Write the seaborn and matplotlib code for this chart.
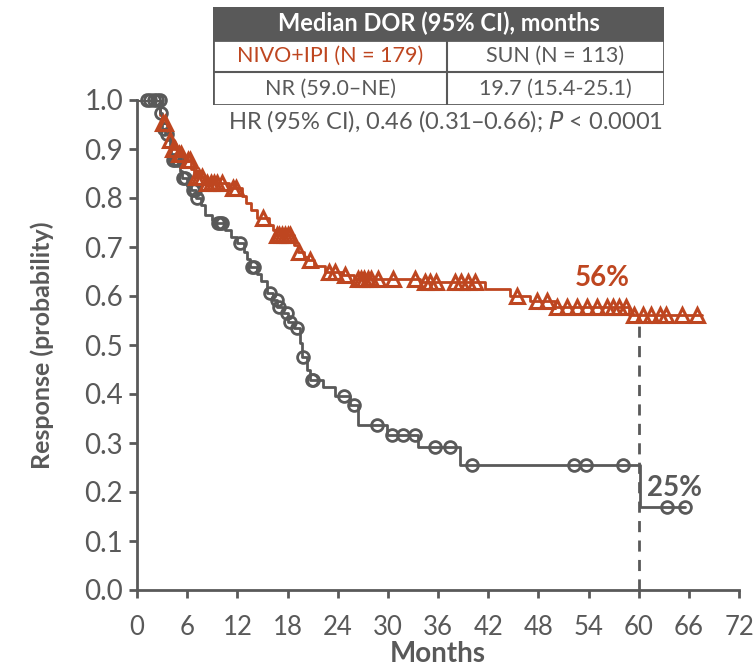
import numpy as np
import pandas as pd
import matplotlib
matplotlib.use("Agg")
import matplotlib.pyplot as plt
from matplotlib.patches import Rectangle
import seaborn as sns

# NIVO+IPI: times of events (months) and survival after each event
nivo_event_t = [2.8, 3.0, 3.6, 3.8, 4.2, 4.8, 5.5, 6.5, 6.8, 8.2, 11.0, 12.5, 13.0,
                13.6, 14.3, 15.8, 16.3, 16.6, 18.8, 19.2, 20.0, 20.5, 21.2, 22.5,
                24.6, 26.0, 33.8, 41.6, 44.6, 47.0, 50.0, 58.9]
nivo_event_s = [0.970, 0.953, 0.935, 0.918, 0.900, 0.890, 0.877, 0.860, 0.843, 0.830,
                0.820, 0.805, 0.790, 0.775, 0.760, 0.745, 0.735, 0.724, 0.705, 0.690,
                0.680, 0.673, 0.662, 0.649, 0.643, 0.635, 0.629, 0.615, 0.600, 0.590,
                0.578, 0.562]
nivo_censor_t = [3.1, 3.3, 3.9, 4.3, 4.5, 5.0, 5.3, 6.1, 6.3, 7.0, 7.4, 7.8, 8.4, 8.8,
                 9.2, 9.6, 10.2, 11.5, 11.8, 15.1, 16.7, 17.0, 17.4, 17.7, 18.0, 18.3,
                 19.4, 20.7, 23.0, 23.7, 24.9, 26.4, 26.8, 27.2, 27.6, 28.0, 28.8,
                 30.6, 33.2, 34.4, 35.0, 35.8, 38.0, 38.8, 39.6, 40.4, 45.4, 47.9,
                 49.0, 50.2, 51.4, 52.6, 53.8, 55.0, 56.2, 56.9, 57.7, 58.5, 59.5,
                 60.5, 61.5, 62.5, 63.3, 65.2, 67.0]
nivo_end = 67.6

# SUN
sun_event_t = [2.8, 3.0, 3.4, 3.9, 4.1, 5.2, 5.4, 6.0, 6.5, 7.0, 7.6, 8.1, 9.0, 9.5,
               10.5, 11.2, 12.0, 12.8, 13.2, 13.5, 14.3, 14.8, 15.5, 16.3, 16.8, 17.5,
               18.0, 18.8, 19.5, 19.7, 20.3, 20.7, 22.2, 23.7, 25.5, 26.4, 29.9, 33.6,
               38.6, 60.2]
sun_event_s = [0.973, 0.940, 0.930, 0.905, 0.877, 0.855, 0.840, 0.825, 0.816, 0.800,
               0.785, 0.765, 0.755, 0.750, 0.735, 0.720, 0.708, 0.690, 0.675, 0.660,
               0.645, 0.630, 0.606, 0.592, 0.578, 0.565, 0.547, 0.535, 0.505, 0.475,
               0.450, 0.429, 0.415, 0.395, 0.378, 0.337, 0.316, 0.292, 0.255, 0.170]
sun_censor_t = [1.2, 1.6, 2.0, 2.4, 2.7, 2.9, 3.2, 3.6, 4.3, 4.6, 4.9, 5.5, 5.7, 6.7,
                6.9, 7.2, 9.7, 9.9, 10.2, 12.3, 13.7, 14.0, 15.9, 16.7, 17.0, 17.9,
                18.3, 19.1, 19.8, 20.9, 21.0, 24.7, 25.9, 28.7, 30.5, 31.8, 33.2,
                35.6, 37.4, 40.1, 52.3, 53.7, 58.1, 63.4, 65.5]
sun_end = 65.5

x_ticks = list(range(0, 73, 6))
y_ticks = [round(v * 0.1, 1) for v in range(11)]

ORANGE = "#BE4620"
GRAY = "#595959"


def step_frame(event_t, event_s, end):
    t = [0.0] + list(event_t) + [end]
    s = [1.0] + list(event_s) + [event_s[-1]]
    return pd.DataFrame({"t": t, "s": s})


def censor_frame(event_t, event_s, censor_t):
    idx = np.searchsorted(event_t, censor_t, side="right")
    s = np.concatenate([[1.0], event_s])[idx]
    return pd.DataFrame({"t": censor_t, "s": s})


sns.set_theme(style="white")
plt.rcParams["font.family"] = ["Lato", "DejaVu Sans"]

fig = plt.figure(figsize=(7.53, 6.67), dpi=100)
ax = fig.add_axes([137 / 753, 77 / 667, 602 / 753, 490 / 667])

sns.lineplot(data=step_frame(nivo_event_t, nivo_event_s, nivo_end), x="t", y="s",
             drawstyle="steps-post", estimator=None, sort=False, color=ORANGE,
             linewidth=2, ax=ax)
sns.lineplot(data=step_frame(sun_event_t, sun_event_s, sun_end), x="t", y="s",
             drawstyle="steps-post", estimator=None, sort=False, color=GRAY,
             linewidth=2, ax=ax)

sns.lineplot(data=censor_frame(sun_event_t, sun_event_s, sun_censor_t), x="t", y="s",
             estimator=None, sort=False, linestyle="", marker="o", markersize=8.5,
             markerfacecolor="none", markeredgecolor=GRAY, markeredgewidth=2,
             color=GRAY, clip_on=False, ax=ax)
sns.lineplot(data=censor_frame(nivo_event_t, nivo_event_s, nivo_censor_t), x="t", y="s",
             estimator=None, sort=False, linestyle="", marker="^", markersize=9.5,
             markerfacecolor="none", markeredgecolor=ORANGE, markeredgewidth=2.2,
             color=ORANGE, clip_on=False, ax=ax)

# 60-month reference
ax.plot([60, 60], [0, nivo_event_s[-1]], color=GRAY, linewidth=2,
        linestyle=(0, (4, 3)), zorder=1)

ax.text(55.7, 0.637, "56%", color=ORANGE, fontsize=20, fontweight="bold",
        ha="center", va="center")
ax.text(64.3, 0.208, "25%", color=GRAY, fontsize=20, fontweight="bold",
        ha="center", va="center")

ax.set_xlim(0, 72)
ax.set_ylim(0, 1.0)
ax.set_xticks(x_ticks)
ax.set_yticks(y_ticks)
ax.set_yticklabels([f"{v:.1f}" for v in y_ticks])
ax.set_xticklabels([str(v) for v in x_ticks])
ax.tick_params(axis="y", labelsize=20, pad=4)
ax.tick_params(axis="x", labelsize=18.5, pad=12)
ax.tick_params(direction="out", length=6, width=2, color=GRAY, labelcolor=GRAY,
               left=True, bottom=True)
for side in ["top", "right"]:
    ax.spines[side].set_visible(False)
for side in ["left", "bottom"]:
    ax.spines[side].set_color(GRAY)
    ax.spines[side].set_linewidth(2)
ax.set_xlabel("Months", fontsize=20, fontweight="bold", color=GRAY, labelpad=1)
ax.set_ylabel("Response (probability)", fontsize=18, fontweight="bold",
              color=GRAY, labelpad=22)

# median DOR table
tax = fig.add_axes([213 / 753, 1 - 105 / 667, 451 / 753, 98 / 667])
tax.set_xlim(0, 1)
tax.set_ylim(0, 3)
tax.axis("off")
div = (447 - 213) / 451
tax.add_patch(Rectangle((0, 2), 1, 1, facecolor=GRAY, edgecolor=GRAY, linewidth=2))
tax.add_patch(Rectangle((0, 0), 1, 2, facecolor="white", edgecolor=GRAY, linewidth=2))
tax.plot([0, 1], [1, 1], color=GRAY, linewidth=1.5)
tax.plot([div, div], [0, 2], color=GRAY, linewidth=1.5)
tax.text(0.5, 2.5, "Median DOR (95% CI), months", color="white", fontsize=17,
         fontweight="bold", ha="center", va="center")
tax.text(div / 2, 1.5, "NIVO+IPI (N = 179)", color=ORANGE, fontsize=15.5,
         ha="center", va="center")
tax.text((1 + div) / 2, 1.5, "SUN (N = 113)", color=GRAY, fontsize=15.5,
         ha="center", va="center")
tax.text(div / 2, 0.5, "NR (59.0\u2013NE)", color=GRAY, fontsize=15.5,
         ha="center", va="center")
tax.text((1 + div) / 2, 0.5, "19.7 (15.4-25.1)", color=GRAY, fontsize=15.5,
         ha="center", va="center")

fig.text(446 / 753, 1 - 121 / 667,
         "HR (95% CI), 0.46 (0.31\u20130.66); $\\it{P}$ < 0.0001",
         color=GRAY, fontsize=17, ha="center", va="center")

fig.savefig("out.png", dpi=100)
